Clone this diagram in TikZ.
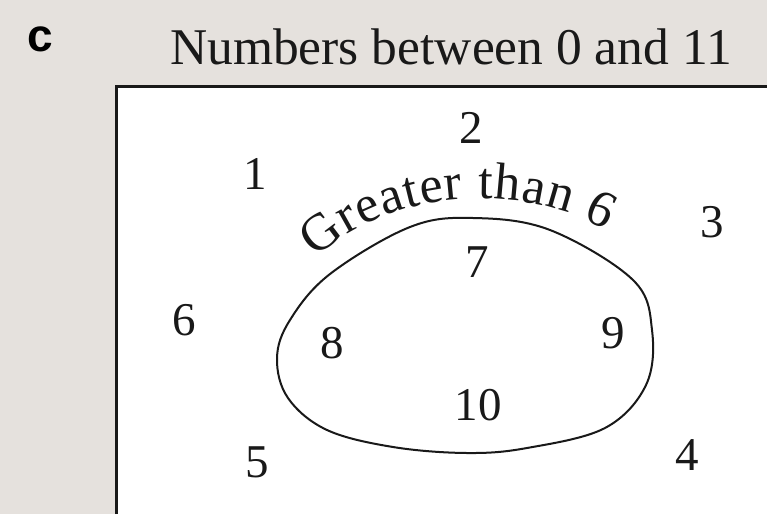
\documentclass[tikz,border=0pt]{standalone}
\usepackage{fontspec}
\setmainfont{Liberation Serif}
\newfontfamily\labelfont{Liberation Sans}
\usetikzlibrary{decorations.text}
\newcommand{\numfont}{\fontsize{47}{50}\selectfont}
\newcommand{\arcfont}{\fontsize{52}{56}\selectfont}
\newcommand{\titlefont}{\fontsize{51.5}{55}\selectfont}
\definecolor{bggray}{RGB}{229,225,221}
\tikzset{
  num/.style={inner sep=0pt, font=\numfont, text=black!90},
  loopline/.style={line width=2pt, black!90},
}
\begin{document}
\begin{tikzpicture}[x=1pt,y=-1pt]
\fill[bggray] (0,0) rectangle (767,514);
\useasboundingbox (0,0) rectangle (767,514);
\fill[white] (116.5,86) rectangle (767,514);
\draw[line width=3pt, black!90] (116.5,514) -- (116.5,86) -- (767,86);
\node[inner sep=0pt, anchor=base, font=\labelfont\bfseries\fontsize{46}{48}\selectfont] (lab) at (40,51) {c};
\node[inner sep=0pt, anchor=base, font=\titlefont, text=black!90] (title) at (451,64) {Numbers between 0 and 11};
% numbers
\node[num] (n2) at (471,128) {2};
\node[num] (n1) at (255,174) {1};
\node[num] (n3) at (712,222) {3};
\node[num] (n6) at (184,320) {6};
\node[num] (n7) at (477,262) {7};
\node[num] (n8) at (332,343) {8};
\node[num] (n9) at (613,333) {9};
\node[num] (n10) at (478,405) {10};
\node[num] (n5) at (257,462) {5};
\node[num] (n4) at (687,455) {4};
% loop
\draw[loopline] plot[smooth cycle, tension=0.6] coordinates {
  (277,358) (290,320) (330,274) (410,227) (473,218) (550,230) (633,280)
  (652,330) (646,385) (605,428) (527,448) (467,453) (393,447) (327,430) (288,398)};
% curved label
\path[decorate, decoration={text along path, text align={fit to path},
  text={|\arcfont\color{black!90}|Greater than 6}}]
  (316,258) .. controls (385,193) and (515,178) .. (606,230);
\end{tikzpicture}
\end{document}
